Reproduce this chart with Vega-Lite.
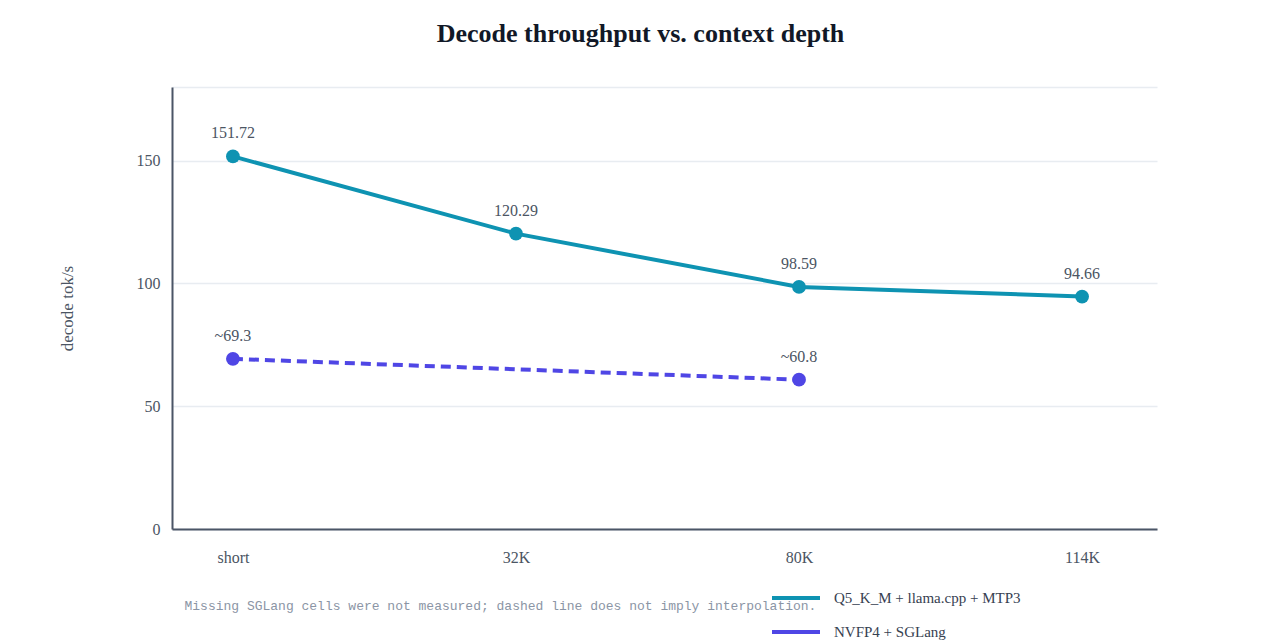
{
  "$schema": "https://vega.github.io/schema/vega-lite/v6.json",
  "width": 985,
  "height": 442,
  "autosize": "none",
  "padding": {"left": 172, "top": 87, "right": 123, "bottom": 111},
  "background": "white",
  "config": {"view": {"stroke": null}, "font": "Liberation Serif"},
  "title": {
    "text": "Decode throughput vs. context depth",
    "font": "Liberation Serif",
    "fontSize": 26,
    "fontWeight": "bold",
    "color": "#111827",
    "anchor": "middle",
    "frame": "group",
    "dx": -24,
    "offset": 40
  },
  "data": {
    "values": [
      {"depth": "short", "series": "Q5_K_M + llama.cpp + MTP3", "tps": 151.72, "label": "151.72"},
      {"depth": "32K", "series": "Q5_K_M + llama.cpp + MTP3", "tps": 120.29, "label": "120.29"},
      {"depth": "80K", "series": "Q5_K_M + llama.cpp + MTP3", "tps": 98.59, "label": "98.59"},
      {"depth": "114K", "series": "Q5_K_M + llama.cpp + MTP3", "tps": 94.66, "label": "94.66"},
      {"depth": "short", "series": "NVFP4 + SGLang", "tps": 69.3, "label": "~69.3"},
      {"depth": "80K", "series": "NVFP4 + SGLang", "tps": 60.8, "label": "~60.8"}
    ]
  },
  "encoding": {
    "x": {
      "field": "depth",
      "type": "ordinal",
      "sort": ["short", "32K", "80K", "114K"],
      "scale": {"type": "point", "padding": 0.24},
      "axis": {
        "title": "Missing SGLang cells were not measured; dashed line does not imply interpolation.",
        "titleFont": "Liberation Mono",
        "titleFontSize": 13,
        "titleFontWeight": "normal",
        "titleColor": "#8b95a5",
        "titleAnchor": "start",
        "titleAlign": "left",
        "titleBaseline": "middle",
        "titleX": 12,
        "titleY": 76,
        "labelAngle": 0,
        "labelFontSize": 16,
        "labelColor": "#4b5563",
        "labelPadding": 20,
        "labelOffset": -7,
        "ticks": false,
        "domainColor": "#4b5566",
        "domainWidth": 2,
        "grid": false
      }
    },
    "y": {
      "field": "tps",
      "type": "quantitative",
      "scale": {"domain": [0, 180], "nice": false},
      "axis": {
        "title": "decode tok/s",
        "titleFontSize": 17,
        "titleFontWeight": "normal",
        "titleColor": "#4b5563",
        "titlePadding": 60,
        "values": [0, 50, 100, 150, 180],
        "labelExpr": "datum.value == 180 ? '' : datum.label",
        "labelFontSize": 16,
        "labelColor": "#4b5563",
        "labelPadding": 12,
        "ticks": false,
        "domainColor": "#4b5566",
        "domainWidth": 2,
        "grid": true,
        "gridColor": "#e8ecf1",
        "gridWidth": 1.5
      }
    },
    "color": {
      "field": "series",
      "type": "nominal",
      "scale": {
        "domain": ["Q5_K_M + llama.cpp + MTP3", "NVFP4 + SGLang"],
        "range": ["#0e93b2", "#4f46e5"]
      },
      "legend": {
        "title": null,
        "orient": "none",
        "legendX": 598,
        "legendY": 485,
        "symbolType": "stroke",
        "symbolSize": 2304,
        "symbolStrokeWidth": 4,
        "labelFontSize": 15,
        "labelColor": "#374151",
        "labelOffset": 12,
        "labelLimit": 400,
        "rowPadding": -22
      }
    }
  },
  "layer": [
    {
      "transform": [{"filter": "datum.series == 'Q5_K_M + llama.cpp + MTP3'"}],
      "mark": {"type": "line", "strokeWidth": 4, "xOffset": -7}
    },
    {
      "transform": [{"filter": "datum.series == 'NVFP4 + SGLang'"}],
      "mark": {"type": "line", "strokeWidth": 4, "strokeDash": [10, 6], "xOffset": -7}
    },
    {
      "mark": {"type": "point", "filled": true, "size": 190, "opacity": 1, "xOffset": -7}
    },
    {
      "mark": {"type": "text", "dy": -23, "fontSize": 16, "color": "#4b5563", "xOffset": -7},
      "encoding": {"text": {"field": "label"}, "color": {"value": "#4b5563"}}
    }
  ]
}
